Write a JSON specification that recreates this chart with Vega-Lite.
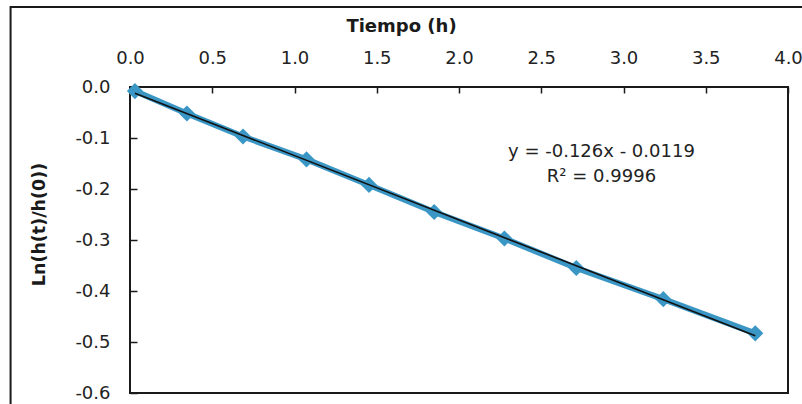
{
  "$schema": "https://vega.github.io/schema/vega-lite/v6.json",
  "width": 658,
  "height": 306,
  "autosize": {"type": "none"},
  "padding": {"left": 130, "top": 87, "right": 14, "bottom": 11},
  "background": "white",
  "config": {
    "view": {"stroke": "#1a1a1a", "strokeWidth": 2},
    "font": "DejaVu Sans"
  },
  "datasets": {
    "points": [
      {"t": 0.03, "v": -0.008},
      {"t": 0.346, "v": -0.052},
      {"t": 0.687, "v": -0.097},
      {"t": 1.073, "v": -0.142},
      {"t": 1.453, "v": -0.192},
      {"t": 1.849, "v": -0.245},
      {"t": 2.276, "v": -0.297},
      {"t": 2.713, "v": -0.355},
      {"t": 3.242, "v": -0.416},
      {"t": 3.801, "v": -0.483}
    ]
  },
  "layer": [
    {
      "data": {"name": "points"},
      "mark": {"type": "line", "color": "#3a96c4", "strokeWidth": 6},
      "encoding": {
        "x": {
          "field": "t",
          "type": "quantitative",
          "scale": {"domain": [0, 4], "nice": false, "zero": false},
          "axis": {
            "orient": "top",
            "title": "Tiempo (h)",
            "values": [0, 0.5, 1, 1.5, 2, 2.5, 3, 3.5, 4],
            "labelExpr": "replace(format(datum.value, '.1f'), '\u2212', '-')",
            "grid": false,
            "domain": false,
            "ticks": true,
            "tickSize": -6,
            "tickColor": "#1a1a1a",
            "tickWidth": 1.5,
            "labelFont": "DejaVu Sans",
            "labelFontSize": 18,
            "labelColor": "#222222",
            "labelPadding": 26,
            "labelFlush": false,
            "titleFont": "DejaVu Sans",
            "titleFontSize": 18,
            "titleFontWeight": "bold",
            "titleColor": "#1a1a1a",
            "titleX": 271,
            "titleY": -61,
            "titleAlign": "center",
            "titleBaseline": "middle"
          }
        },
        "y": {
          "field": "v",
          "type": "quantitative",
          "scale": {"domain": [-0.6, 0], "nice": false, "zero": false},
          "axis": {
            "title": "Ln(h(t)/h(0))",
            "values": [0, -0.1, -0.2, -0.3, -0.4, -0.5, -0.6],
            "labelExpr": "replace(format(datum.value, '.1f'), '\u2212', '-')",
            "grid": false,
            "domain": false,
            "ticks": true,
            "tickSize": -7,
            "tickColor": "#1a1a1a",
            "tickWidth": 1.5,
            "labelFont": "DejaVu Sans",
            "labelFontSize": 18,
            "labelColor": "#222222",
            "labelPadding": 27,
            "labelFlush": false,
            "titleFont": "DejaVu Sans",
            "titleFontSize": 17.5,
            "titleFontWeight": "bold",
            "titleColor": "#1a1a1a",
            "titleX": -91,
            "titleY": 137,
            "titleAngle": -90,
            "titleAlign": "center",
            "titleBaseline": "middle"
          }
        }
      }
    },
    {
      "data": {"name": "points"},
      "mark": {"type": "point", "shape": "diamond", "filled": true, "color": "#3a96c4", "size": 260, "opacity": 1},
      "encoding": {
        "x": {"field": "t", "type": "quantitative"},
        "y": {"field": "v", "type": "quantitative"}
      }
    },
    {
      "data": {"name": "points"},
      "transform": [{"regression": "v", "on": "t"}],
      "mark": {"type": "line", "color": "#111111", "strokeWidth": 1.6},
      "encoding": {
        "x": {"field": "t", "type": "quantitative"},
        "y": {"field": "v", "type": "quantitative"}
      }
    },
    {
      "data": {"values": [{"frame": "chart area"}]},
      "mark": {"type": "rect", "fill": null, "stroke": "#1a1a1a", "strokeWidth": 2, "clip": false},
      "encoding": {
        "x": {"datum": -0.726},
        "x2": {"datum": 4.3},
        "y": {"datum": 0.157},
        "y2": {"datum": -0.75}
      }
    },
    {
      "data": {"values": [{"label": "y = -0.126x - 0.0119"}]},
      "mark": {"type": "text", "font": "DejaVu Sans", "fontSize": 18, "fontWeight": "normal", "color": "#222222", "align": "center", "baseline": "middle"},
      "encoding": {
        "x": {"datum": 2.866},
        "y": {"datum": -0.127},
        "text": {"field": "label"}
      }
    },
    {
      "data": {"values": [{"label": "R² = 0.9996"}]},
      "mark": {"type": "text", "font": "DejaVu Sans", "fontSize": 18, "fontWeight": "normal", "color": "#222222", "align": "center", "baseline": "middle"},
      "encoding": {
        "x": {"datum": 2.866},
        "y": {"datum": -0.176},
        "text": {"field": "label"}
      }
    }
  ]
}
